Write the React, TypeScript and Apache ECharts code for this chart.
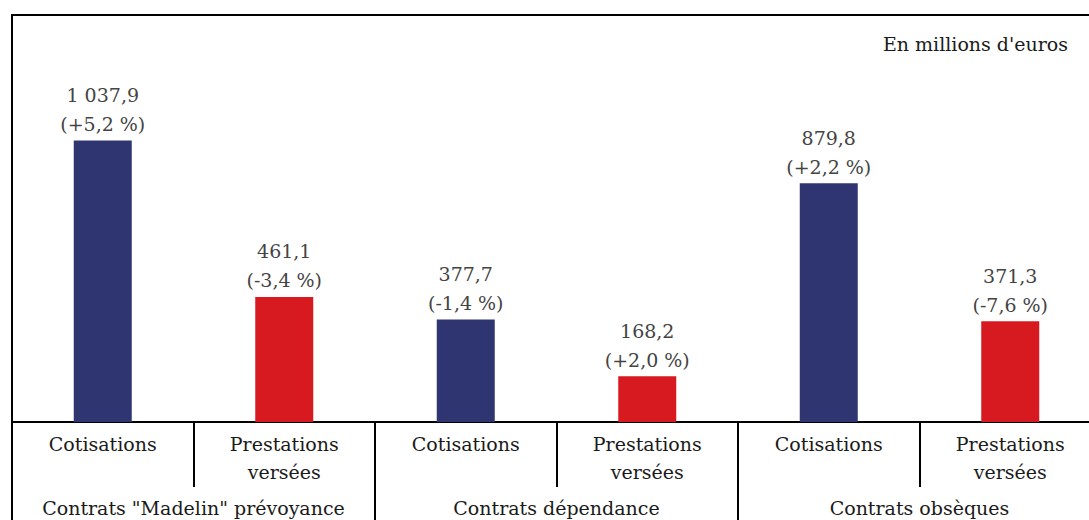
import React, { useEffect, useRef } from "react";
import * as echarts from "echarts";

const categories = ["Cotisations", "Prestations\nversées", "Cotisations", "Prestations\nversées", "Cotisations", "Prestations\nversées"];
const groups = ["Contrats \"Madelin\" prévoyance", "Contrats dépendance", "Contrats obsèques"];
const values = [1037.9, 461.1, 377.7, 168.2, 879.8, 371.3];
const changes = ["+5,2", "-3,4", "-1,4", "+2,0", "+2,2", "-7,6"];
const colors = ["#2E3570", "#D71920", "#2E3570", "#D71920", "#2E3570", "#D71920"];

const FONT = "DejaVu Serif";

function fmt(v: number): string {
  const [i, d] = v.toFixed(1).split(".");
  const withSpace = i.replace(/\B(?=(\d{3})+(?!\d))/g, " ");
  return withSpace + "," + d;
}

export default function App() {
  const ref = useRef<HTMLDivElement>(null);
  useEffect(() => {
    if (!ref.current) return;
    const chart = echarts.init(ref.current, undefined, { renderer: "svg" });
    chart.setOption({
      animation: false,
      backgroundColor: "#fff",
      textStyle: { fontFamily: FONT },
      title: {
        text: "En millions d'euros",
        right: 16,
        top: 29,
        textStyle: { fontFamily: FONT, fontSize: 19, fontWeight: "normal", color: "#1a1a1a" },
      },
      grid: {
        left: 12,
        top: 15,
        width: 1089,
        bottom: 98,
        show: true,
        borderColor: "#000",
        borderWidth: 2,
        containLabel: false,
        outerBoundsMode: "none",
      },
      xAxis: [
        {
          type: "category",
          data: categories,
          position: "bottom",
          axisLine: { show: true, lineStyle: { color: "#000", width: 2 } },
          axisTick: { show: true, length: 65, lineStyle: { color: "#000", width: 2 } },
          axisLabel: {
            interval: 0,
            margin: 8,
            fontFamily: FONT,
            fontSize: 19,
            lineHeight: 28,
            color: "#1a1a1a",
          },
        },
        {
          type: "category",
          data: groups,
          position: "bottom",
          offset: 0,
          axisLine: { show: false },
          axisTick: { show: true, length: 100, lineStyle: { color: "#000", width: 2 } },
          axisLabel: {
            interval: 0,
            margin: 76,
            fontFamily: FONT,
            fontSize: 19,
            color: "#1a1a1a",
          },
        },
      ],
      yAxis: {
        type: "value",
        min: 0,
        max: 1500,
        axisLine: { show: true, lineStyle: { color: "#000", width: 2 } },
        axisTick: { show: false },
        axisLabel: { show: false },
        splitLine: { show: false },
      },
      series: [
        {
          type: "bar",
          xAxisIndex: 0,
          barWidth: 58,
          data: values.map((v, i) => ({ value: v, itemStyle: { color: colors[i] } })),
          label: {
            show: true,
            position: "top",
            distance: 2,
            fontFamily: FONT,
            fontSize: 19,
            lineHeight: 29,
            color: "#444",
            formatter: (p: any) => fmt(p.value) + "\n(" + changes[p.dataIndex] + " %)",
          },
        },
      ],
    });
    return () => chart.dispose();
  }, []);
  return <div ref={ref} style={{ position: "fixed", left: 0, top: 0, width: 1089, height: 520 }} />;
}
